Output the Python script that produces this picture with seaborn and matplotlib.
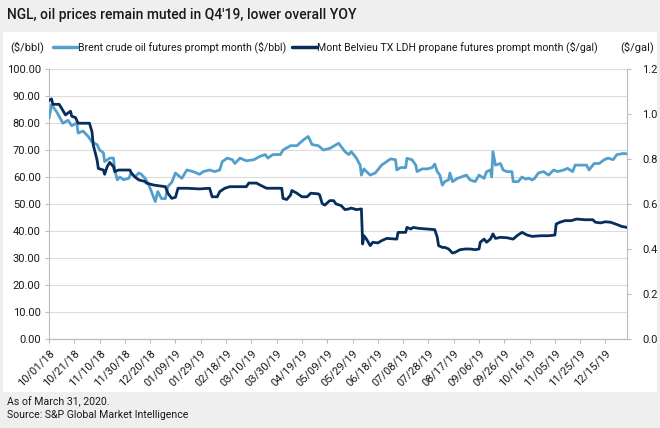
import numpy as np
import pandas as pd
import matplotlib
matplotlib.use('Agg')
import matplotlib.pyplot as plt
import matplotlib.dates as mdates
from matplotlib.patches import Rectangle
import seaborn as sns

# %%
# values (days counted from 10/01/18)

START = '2018-10-01'

brent_day = [0, 2, 6, 11, 15, 18, 22, 23, 27, 31, 34, 38, 40, 43, 44, 48, 51, 52, 54, 56,
             59, 63, 65, 68, 71, 73, 76, 79, 81, 84, 86, 89, 92, 94, 97, 100, 105, 109, 114, 119,
             122, 127, 131, 135, 137, 141, 145, 147, 151, 156, 162, 167, 171, 173, 177, 183, 185, 191, 196, 201,
             205, 208, 213, 217, 222, 229, 234, 237, 239, 243, 246, 247, 249, 251, 254, 258, 263, 270, 274, 275,
             278, 282, 283, 287, 290, 291, 295, 299, 303, 305, 307, 309, 311, 313, 316, 317, 319, 323, 326, 330,
             333, 337, 340, 344, 346, 349, 350, 351, 353, 357, 359, 362, 366, 367, 371, 374, 377, 379, 382, 384,
             387, 391, 395, 399, 402, 407, 410, 414, 416, 420, 425, 427, 431, 435, 439, 442, 446, 449, 454, 457]
brent_price = [81.7, 86.7, 84.2, 79.9, 81.0, 79.0, 80.0, 76.3, 77.0, 75.0, 73.0, 72.0, 70.0, 69.0, 65.7, 67.0, 67.0, 62.6, 58.9, 60.0,
               59.0, 59.5, 61.5, 60.0, 61.5, 61.0, 59.5, 57.0, 54.6, 50.9, 54.6, 52.0, 52.0, 56.5, 58.0, 61.5, 59.5, 62.6, 62.0, 61.0,
               62.0, 62.6, 62.0, 62.6, 65.7, 67.0, 66.4, 65.0, 67.0, 66.0, 66.4, 67.7, 68.3, 67.0, 68.3, 68.3, 70.0, 71.6, 71.6, 73.7,
               75.0, 72.0, 71.6, 70.0, 70.6, 72.5, 69.4, 68.3, 69.4, 67.0, 64.4, 60.7, 63.0, 62.0, 60.7, 61.5, 64.4, 66.7, 66.4, 62.6,
               63.5, 63.5, 66.9, 66.4, 64.4, 62.0, 63.0, 63.0, 63.5, 64.8, 62.0, 60.7, 57.0, 58.3, 59.0, 61.5, 58.3, 59.5, 60.0, 60.7,
               58.9, 58.3, 60.7, 59.5, 62.0, 62.6, 60.0, 69.4, 64.4, 65.0, 62.6, 62.0, 62.0, 58.3, 58.3, 60.0, 59.2, 59.6, 58.9, 59.5,
               61.5, 62.0, 60.7, 62.6, 62.0, 62.6, 63.2, 62.0, 64.4, 64.4, 64.4, 62.6, 65.0, 65.0, 66.4, 67.0, 66.4, 68.3, 68.7, 68.6]

propane_day = [0, 2, 3, 8, 10, 13, 17, 18, 21, 23, 32, 34, 35, 38, 39, 43, 44, 46, 48, 51,
               52, 55, 64, 65, 68, 71, 76, 77, 83, 92, 94, 97, 100, 102, 109, 119, 127, 129, 133, 135,
               139, 143, 156, 158, 164, 167, 172, 184, 185, 188, 191, 192, 196, 200, 204, 207, 213, 214, 216, 218,
               221, 222, 225, 227, 231, 234, 237, 239, 243, 247, 248, 249, 251, 254, 256, 260, 263, 267, 275, 276,
               282, 283, 286, 288, 292, 299, 305, 307, 308, 311, 313, 316, 319, 321, 325, 329, 333, 337, 340, 341,
               344, 346, 349, 351, 353, 357, 362, 367, 370, 374, 378, 382, 389, 395, 400, 401, 404, 408, 413, 417,
               424, 430, 432, 436, 440, 444, 448, 453, 457]
propane_price = [1.060, 1.067, 1.043, 1.043, 1.025, 0.996, 1.012, 0.990, 0.984, 0.959, 0.959, 0.921, 0.862, 0.796, 0.758, 0.751, 0.732, 0.766, 0.785, 0.766,
                 0.744, 0.751, 0.751, 0.738, 0.720, 0.707, 0.700, 0.693, 0.684, 0.677, 0.648, 0.625, 0.630, 0.670, 0.670, 0.667, 0.670, 0.632, 0.632, 0.655,
                 0.670, 0.677, 0.677, 0.693, 0.693, 0.684, 0.670, 0.670, 0.625, 0.620, 0.640, 0.660, 0.648, 0.632, 0.632, 0.648, 0.645, 0.640, 0.602, 0.595,
                 0.610, 0.615, 0.615, 0.600, 0.593, 0.575, 0.578, 0.582, 0.575, 0.578, 0.422, 0.459, 0.444, 0.415, 0.430, 0.427, 0.437, 0.447, 0.444, 0.474,
                 0.474, 0.496, 0.489, 0.496, 0.492, 0.489, 0.486, 0.452, 0.415, 0.407, 0.407, 0.400, 0.382, 0.385, 0.397, 0.400, 0.400, 0.397, 0.400, 0.430,
                 0.444, 0.430, 0.444, 0.467, 0.447, 0.452, 0.450, 0.444, 0.459, 0.474, 0.462, 0.456, 0.459, 0.459, 0.462, 0.511, 0.519, 0.526, 0.526, 0.533,
                 0.530, 0.530, 0.519, 0.516, 0.521, 0.519, 0.511, 0.500, 0.496]

brent_label = 'Brent crude oil futures prompt month ($/bbl)'
propane_label = 'Mont Belvieu TX LDH propane futures prompt month ($/gal)'
title = "NGL, oil prices remain muted in Q4'19, lower overall YOY"
notes = ['As of March 31, 2020.', 'Source: S&P Global Market Intelligence']

# %%
# build frames

t0 = pd.Timestamp(START)
brent = pd.DataFrame({'date': t0 + pd.to_timedelta(brent_day, unit='D'), 'price': brent_price})
propane = pd.DataFrame({'date': t0 + pd.to_timedelta(propane_day, unit='D'), 'price': propane_price})

LIGHT = '#539fcc'
NAVY = '#062d5c'
GRID = '#dcdcdc'
TEXT = '#1a1a1a'

# %%
# draw chart

sns.set_style('white')
plt.rcParams['font.family'] = ['Roboto', 'DejaVu Sans']

fig = plt.figure(figsize = (6.6, 4.28), dpi = 100, facecolor = '#efefef')
fig.patches.append(Rectangle((3 / 660, 1 - 392 / 428), 654 / 660, 360 / 428, transform = fig.transFigure,
                             facecolor = 'white', edgecolor = 'none', zorder = -10))
axis = fig.add_axes([49 / 660, 1 - 339 / 428, 578 / 660, 270 / 428])
axis.set_facecolor('none')
axis2 = axis.twinx()
axis2.set_facecolor('none')

sns.lineplot(data = brent, x = 'date', y = 'price', ax = axis, color = LIGHT, linewidth = 2.0, zorder = 3)
sns.lineplot(data = propane, x = 'date', y = 'price', ax = axis2, color = NAVY, linewidth = 2.0, zorder = 4)

axis.set_xlim(t0, t0 + pd.Timedelta(days = 457))
axis.set_ylim(0, 100)
axis2.set_ylim(0, 1.2)
axis.set_yticks(np.arange(0, 101, 10))
axis2.set_yticks(np.arange(0, 1.21, 0.2))
axis.yaxis.set_major_formatter(matplotlib.ticker.FormatStrFormatter('%.2f'))
axis2.yaxis.set_major_formatter(matplotlib.ticker.FormatStrFormatter('%.1f'))
axis.set_xticks(pd.date_range(t0, periods = 23, freq = '20D'))
axis.xaxis.set_major_formatter(mdates.DateFormatter('%m/%d/%y'))
axis.grid(axis = 'y', color = GRID, linewidth = 0.8)
axis.set_axisbelow(True)
axis.set_xlabel('')
axis.set_ylabel('')
axis2.set_ylabel('')

for ax in (axis, axis2):
    ax.spines['top'].set_visible(False)
    for s in ('left', 'right', 'bottom'):
        ax.spines[s].set_color('#bdbdbd')
        ax.spines[s].set_linewidth(0.8)
    ax.tick_params(length = 3, width = 0.8, color = '#bdbdbd', labelsize = 8, labelcolor = TEXT)
axis.spines['right'].set_visible(False)
axis2.spines['left'].set_visible(False)
axis.tick_params(axis = 'y', pad = 3, left = True)
axis.tick_params(axis = 'x', bottom = True)
axis2.tick_params(axis = 'y', pad = 8, right = True)
for lbl in axis.get_xticklabels():
    lbl.set_rotation(45)
    lbl.set_ha('right')
    lbl.set_rotation_mode('anchor')

# %%
# title, legend row, footnotes

fig.text(7 / 660, 1 - 15 / 428, title, fontsize = 10, fontweight = 'medium', color = TEXT, va = 'center', ha = 'left')
fig.text(10 / 660, 1 - 47 / 428, '($/bbl)', fontsize = 8, color = TEXT, va = 'center')
fig.text(654 / 660, 1 - 47 / 428, '($/gal)', fontsize = 8, color = TEXT, va = 'center', ha = 'right')
handles = [plt.Line2D([], [], color = LIGHT, linewidth = 2.5), plt.Line2D([], [], color = NAVY, linewidth = 2.5)]
fig.legend(handles, [brent_label, propane_label], loc = 'center left', bbox_to_anchor = (53 / 660, 1 - 47 / 428),
           ncol = 2, frameon = False, fontsize = 7.6, handlelength = 2.3, handletextpad = 0.05, columnspacing = 0.6,
           borderpad = 0, borderaxespad = 0, labelcolor = TEXT)
fig.text(7 / 660, 1 - 402 / 428, notes[0], fontsize = 7.6, color = TEXT, va = 'center')
fig.text(7 / 660, 1 - 415 / 428, notes[1], fontsize = 7.6, color = TEXT, va = 'center')

plt.savefig('out.png', dpi = 100, facecolor = fig.get_facecolor())
